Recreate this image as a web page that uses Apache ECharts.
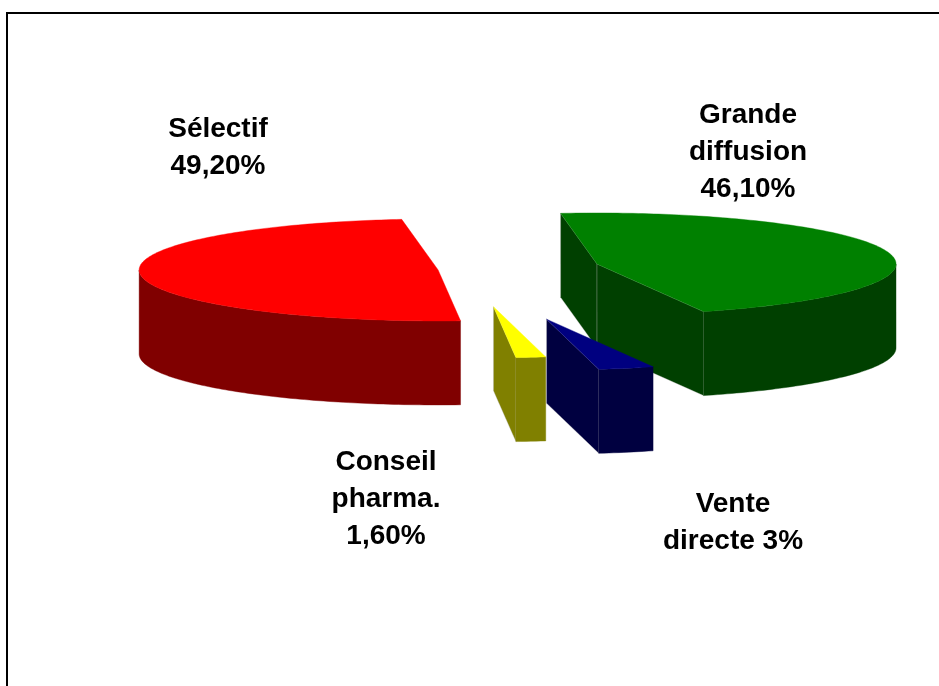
<!DOCTYPE html>
<html>
<head>
<meta charset="utf-8">
<script src="https://cdn.jsdelivr.net/npm/echarts@6/dist/echarts.min.js"></script>
<style>
  html, body { margin: 0; padding: 0; background: #ffffff; }
  #chart { width: 939px; height: 686px; }
</style>
</head>
<body>
<div id="chart"></div>
<script>
// Distribution channels, in clockwise slice order
const categories = ['Grande diffusion', 'Vente directe', 'Conseil pharma.', 'Sélectif'];
const shares = [46.1, 3, 1.6, 49.2];
const labelTexts = ['Grande\ndiffusion\n46,10%', 'Vente\ndirecte 3%', 'Conseil\npharma.\n1,60%', 'Sélectif\n49,20%'];

// Face colours: top face and darker side faces
const topColors = ['#008000', '#000080', '#FFFF00', '#FF0000'];
const sideColors = ['#004000', '#000040', '#808000', '#800000'];

// Projected pie geometry (ellipse radii, thickness, first slice angle)
const pie = { cx: 466, cy: 269.5, rx: 299, ry: 51, depth: 84, startAngle: 97 };
// Explosion distance of each slice from the common centre
const explode = [135, 302, 220, 28];
// Label anchors (centre of each label block)
const labelPos = [[748, 152], [733, 523], [386, 499], [218, 148]];

const total = shares.reduce((s, v) => s + v, 0);
const sliceAngles = [];
(function () {
  let a = pie.startAngle;
  shares.forEach(v => {
    const sweep = v / total * 360;
    sliceAngles.push([a, a - sweep]);
    a -= sweep;
  });
})();

const rad = d => d * Math.PI / 180;
function pt(c, deg, dz) {
  return [c[0] + pie.rx * Math.cos(rad(deg)), c[1] - pie.ry * Math.sin(rad(deg)) + (dz || 0)];
}
function arc(c, from, to, dz) {
  const n = Math.max(2, Math.ceil(Math.abs(to - from)));
  const pts = [];
  for (let k = 0; k <= n; k++) pts.push(pt(c, from + (to - from) * k / n, dz));
  return pts;
}

function renderItem(params, api) {
  const i = params.dataIndex;
  const value = api.value(1);
  const sweep = value / total * 360;
  const a = sliceAngles[i][0];
  const b = a - sweep;
  const mid = (a + b) / 2;
  const e = explode[i];
  const c = [pie.cx + e * Math.cos(rad(mid)), pie.cy - e * (pie.ry / pie.rx) * Math.sin(rad(mid))];
  const d = pie.depth;
  const base = Math.round(c[1]) * 10;
  const children = [];
  const edge = 'rgba(175,175,175,0.55)';

  function radialFace(theta, k) {
    children.push({
      type: 'polygon', z2: base + k,
      shape: { points: [c, pt(c, theta, 0), pt(c, theta, d), [c[0], c[1] + d]] },
      style: { fill: sideColors[i], stroke: edge, lineWidth: 0.6 }
    });
  }
  // cut faces that turn toward the viewer
  if (Math.cos(rad(a)) < 0) radialFace(a, 1);
  if (Math.cos(rad(b)) > 0) radialFace(b, 2);

  // front part of the outer wall
  for (let k = -2; k <= 2; k++) {
    const lo = Math.max(b, -180 + 360 * k);
    const hi = Math.min(a, 360 * k);
    if (hi > lo) {
      const pts = arc(c, hi, lo, 0).concat(arc(c, lo, hi, d));
      children.push({
        type: 'polygon', z2: base + 3,
        shape: { points: pts },
        style: { fill: sideColors[i], stroke: sideColors[i], lineWidth: 0.4 }
      });
    }
  }

  // top face
  children.push({
    type: 'polygon', z2: base + 4,
    shape: { points: [c].concat(arc(c, a, b, 0)) },
    style: { fill: topColors[i], stroke: topColors[i], lineWidth: 0.4 }
  });

  // data label
  children.push({
    type: 'text', z2: 100000,
    x: labelPos[i][0], y: labelPos[i][1],
    style: {
      text: labelTexts[i],
      fill: '#000000',
      font: 'bold 28px "Liberation Sans", Arial, sans-serif',
      align: 'center',
      verticalAlign: 'middle',
      lineHeight: 37
    }
  });

  return { type: 'group', children: children };
}

const chart = echarts.init(document.getElementById('chart'), null, { renderer: 'canvas' });
chart.setOption({
  backgroundColor: '#ffffff',
  animation: false,
  graphic: [{
    type: 'rect', z: 0,
    shape: { x: 7, y: 13, width: 1000, height: 1000 },
    style: { fill: 'none', stroke: '#000000', lineWidth: 2 }
  }],
  series: [{
    type: 'custom',
    coordinateSystem: 'none',
    silent: true,
    renderItem: renderItem,
    data: categories.map((name, i) => ({ name: name, value: [i, shares[i]] }))
  }]
});
</script>
</body>
</html>
